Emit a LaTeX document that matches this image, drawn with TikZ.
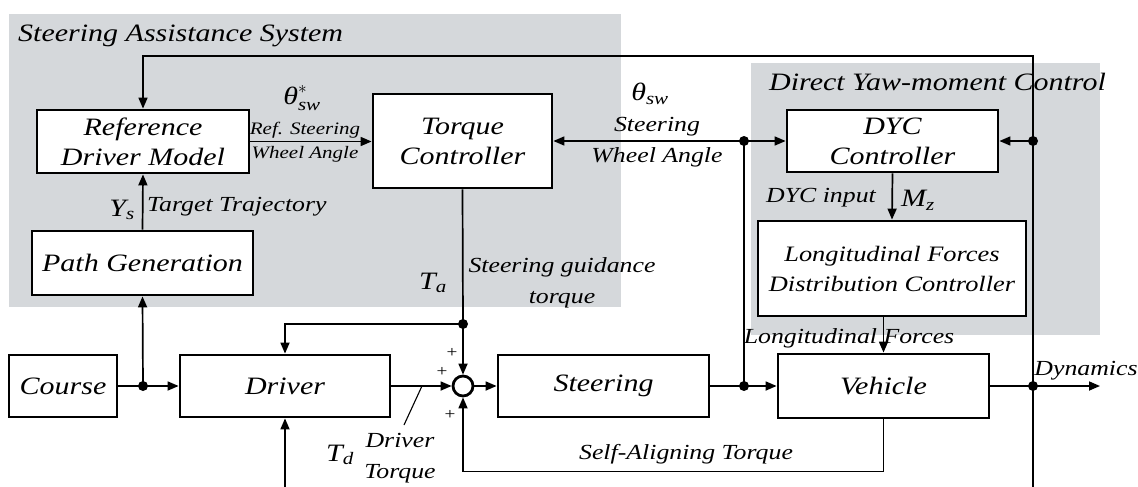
\documentclass[tikz,border=0pt]{standalone}
\usepackage{amsmath}
\usepackage{fontspec}
\setmainfont{Liberation Serif}[FakeStretch=1.2]
\usetikzlibrary{arrows.meta}
\definecolor{zonegray}{RGB}{213,216,219}
\newcommand\fbig{\fontsize{25}{30}\selectfont}
\newcommand\fmid{\fontsize{21.5}{31}\selectfont}
\newcommand\fsml{\fontsize{17.5}{24}\selectfont}
\newcommand\flfd{\fontsize{22}{30}\selectfont}
\newcommand\fplus{\fontsize{16}{16}\selectfont}
\begin{document}
\begin{tikzpicture}[x=1pt,y=-1pt,
  blk/.style={draw, line width=2.8pt, fill=white, align=center, inner sep=0pt, font=\fbig\itshape},
  lbl/.style={inner sep=0pt, align=center, font=\fmid\itshape},
  wire/.style={line width=1.7pt},
  arr/.style={wire, -{Triangle[length=11pt,width=9pt]}},
  dot/.style={circle, fill=black, inner sep=0pt, minimum size=10pt},
  sumjunction/.style={circle, draw, line width=2.8pt, fill=white, inner sep=0pt, minimum size=20pt},
  plus/.style={inner sep=0pt, font=\fplus}
]
\useasboundingbox (0,0) rectangle (1138,487);

% system groupings
\fill[zonegray] (9,14) rectangle (621,307);
\fill[zonegray] (751,63) rectangle (1100,335);
\node[lbl, font=\fbig\itshape, anchor=base west] (sastitle) at (18,42) {Steering Assistance System};
\node[lbl, font=\fbig\itshape, anchor=base west] (dyctitle) at (769,90) {Direct Yaw-moment Control};

% blocks
\node[blk, minimum width=212pt, minimum height=63pt] (refdm) at (143,141.5) {Reference\\Driver Model};
\node[blk, minimum width=179pt, minimum height=94pt] (torque) at (462.5,141) {Torque\\Controller};
\node[blk, minimum width=211pt, minimum height=62pt] (dyc) at (892.5,141) {DYC\\Controller};
\node[blk, minimum width=268pt, minimum height=95pt, font=\flfd\itshape] (lfdc) at (892,268.5) {Longitudinal Forces\\Distribution Controller};
\node[blk, minimum width=221pt, minimum height=64pt] (path) at (142.5,263) {Path Generation};
\node[blk, minimum width=108pt, minimum height=62pt] (course) at (63,386) {Course};
\node[blk, minimum width=210pt, minimum height=62pt] (driver) at (285,386) {Driver};
\node[blk, minimum width=211pt, minimum height=62pt] (steering) at (603.5,386) {Steering};
\node[blk, minimum width=211pt, minimum height=64pt] (vehicle) at (883.5,386) {Vehicle};
\node[sumjunction] (sum) at (463,386) {};

% branch points
\node[dot] (cdot) at (143,386) {};
\node[dot] (tadot) at (463,324) {};
\node[dot] (swdot) at (744,141) {};
\node[dot] (stdot) at (744,386) {};
\node[dot] (dycR) at (1033,141) {};
\node[dot] (dynR) at (1033,386) {};
\coordinate (fbR) at (1033,56);
\coordinate (rbot) at (1033,487);
\coordinate (dynOut) at (1100,386);
\coordinate (tdin) at (285,487);
\coordinate (tdtick) at (422,386);
\coordinate (tdlead) at (404,425);

% connectors
\draw[arr] (rbot) -- (fbR) -| (refdm.north);
\draw[arr] (dycR.center) -- (dyc.east);
\draw[wire] (vehicle.east) -- (dynR.center);
\draw[arr] (dynR.center) -- (dynOut);
\draw[wire] (steering.east) -- (stdot.center) -- (swdot.center);
\draw[arr] (stdot.center) -- (vehicle.west);
\draw[arr] (swdot.center) -- (torque.east);
\draw[arr] (swdot.center) -- (dyc.west);
\draw[arr] (dyc.south) -- (lfdc.north);
\draw[arr] (lfdc.south -| vehicle.north) -- (vehicle.north);
\draw[arr] (vehicle.south) -- ++(0,52) -| (sum.south);
\draw[wire] (course.east) -- (cdot.center);
\draw[arr] (cdot.center) -- (driver.west);
\draw[arr] (cdot.center) -- (path.south);
\draw[arr] (path.north) -- (refdm.south);
\draw[arr] (refdm.east) -- (refdm.east -| torque.west);
\draw[wire] (torque.south) -- (tadot.center);
\draw[arr] (tadot.center) -- (sum.north);
\draw[arr] (tadot.center) -| (driver.north);
\draw[arr] (driver.east) -- (sum.west);
\draw[arr] (sum.east) -- (steering.west);
\draw[arr] (tdin) -- (driver.south);
\draw[line width=1.1pt] (tdtick) -- (tdlead);

% signal labels
\node[lbl, font=\fbig] (threfl) at (302,98) {$\textit{θ}^{*}_{\textit{sw}}$};
\node[lbl, font=\fsml\itshape] (refswl) at (305,142) {Ref. Steering\\Wheel Angle};
\node[lbl, font=\fbig] (thswl) at (650,94) {$\textit{θ}_{\textit{sw}}$};
\node[lbl] (swl) at (657,142) {Steering\\Wheel Angle};
\node[lbl, font=\fbig] (ysl) at (122,210) {$\textit{Y}_{\textit{s}}$};
\node[lbl, anchor=west] (ttl) at (147,207) {Target Trajectory};
\node[lbl, font=\fbig] (tal) at (433,283) {$\textit{T}_{\textit{a}}$};
\node[lbl] (sgl) at (562,283) {Steering guidance\\torque};
\node[lbl] (dycinl) at (821,198) {DYC input};
\node[lbl, font=\fbig] (mzl) at (918,200) {$\textit{M}_{\textit{z}}$};
\node[lbl] (lfl) at (849,338) {Longitudinal Forces};
\node[lbl] (dynl) at (1086,371) {Dynamics};
\node[lbl] (satl) at (686,454) {Self-Aligning Torque};
\node[lbl, font=\fbig] (tdl) at (340,455) {$\textit{T}_{\textit{d}}$};
\node[lbl] (dtl) at (400,458) {Driver\\Torque};
\node[plus] (p1) at (452,353) {+};
\node[plus] (p2) at (442,372) {+};
\node[plus] (p3) at (450,415) {+};
\end{tikzpicture}
\end{document}
